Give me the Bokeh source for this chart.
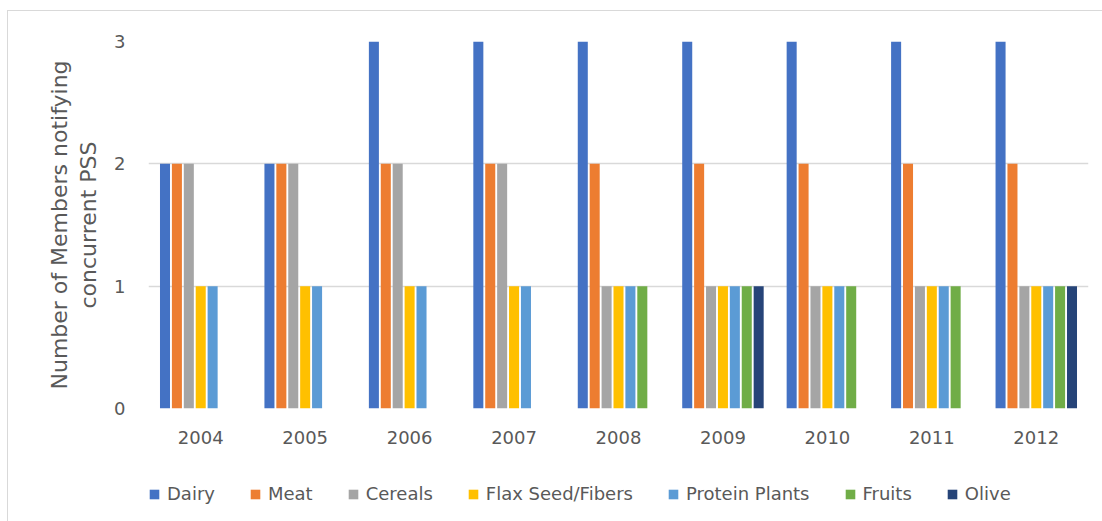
from bokeh.plotting import figure
from bokeh.models import ColumnDataSource, FactorRange, Range1d, FixedTicker, Legend, LegendItem
from bokeh.layouts import column
from bokeh.transform import dodge
from bokeh.embed import file_html
from bokeh.resources import INLINE

years = ["2004", "2005", "2006", "2007", "2008", "2009", "2010", "2011", "2012"]
dairy = [2, 2, 3, 3, 3, 3, 3, 3, 3]
meat = [2, 2, 2, 2, 2, 2, 2, 2, 2]
cereals = [2, 2, 2, 2, 1, 1, 1, 1, 1]
flax = [1, 1, 1, 1, 1, 1, 1, 1, 1]
protein = [1, 1, 1, 1, 1, 1, 1, 1, 1]
fruits = [0, 0, 0, 0, 1, 1, 1, 1, 1]
olive = [0, 0, 0, 0, 0, 1, 0, 0, 1]

series_names = ["Dairy", "Meat", "Cereals", "Flax Seed/Fibers", "Protein Plants", "Fruits", "Olive"]
series_keys = ["dairy", "meat", "cereals", "flax", "protein", "fruits", "olive"]
colors = ["#4472C4", "#ED7D31", "#A5A5A5", "#FFC000", "#5B9BD5", "#70AD47", "#264478"]

source = ColumnDataSource(dict(year=years, dairy=dairy, meat=meat, cereals=cereals,
                               flax=flax, protein=protein, fruits=fruits, olive=olive))

FONT = "DejaVu Sans"
TXT = "#595959"
W = 1094
H_MAIN = 470
H_LEG = 40

p = figure(x_range=FactorRange(*years), y_range=Range1d(0, 3),
           width=W, height=H_MAIN, output_backend="svg", toolbar_location=None,
           min_border_left=140, min_border_right=14, min_border_top=30, min_border_bottom=73)
p.outline_line_color = None
p.background_fill_color = "white"
p.border_fill_color = "white"

slot = 0.114
for i, (k, c) in enumerate(zip(series_keys, colors)):
    p.vbar(x=dodge("year", (i - 3) * slot, range=p.x_range), top=k, width=0.096,
           source=source, fill_color=c, line_color=None)

p.xgrid.grid_line_color = None
p.ygrid.grid_line_color = "#d9d9d9"
p.ygrid.grid_line_width = 1.3
p.yaxis.ticker = FixedTicker(ticks=[0, 1, 2, 3])

for ax in (p.xaxis[0], p.yaxis[0]):
    ax.axis_line_color = None
    ax.major_tick_line_color = None
    ax.minor_tick_line_color = None
    ax.major_label_text_font = FONT
    ax.major_label_text_font_size = "18px"
    ax.major_label_text_color = TXT

p.xaxis.major_label_standoff = 16
p.yaxis.major_label_standoff = 17
p.yaxis.axis_label = "Number of Members notifying\nconcurrent PSS"
p.yaxis.axis_label_text_font = FONT
p.yaxis.axis_label_text_font_size = "22px"
p.yaxis.axis_label_text_font_style = "normal"
p.yaxis.axis_label_text_color = TXT
p.yaxis.axis_label_text_line_height = 1.15
p.yaxis.axis_label_standoff = 10

# legend strip: same series as hidden renderers, legend drawn normally
lf = figure(x_range=FactorRange(*years), y_range=Range1d(0, 3),
            width=W, height=H_LEG, output_backend="svg", toolbar_location=None,
            min_border=0, x_axis_location=None, y_axis_location=None)
lf.outline_line_color = None
lf.grid.grid_line_color = None
lf.border_fill_color = "white"
items = []
for i, (k, n, c) in enumerate(zip(series_keys, series_names, colors)):
    r = lf.vbar(x=dodge("year", (i - 3) * slot, range=lf.x_range), top=k, width=0.096,
                source=source, fill_color=c, line_color=None, visible=False)
    items.append(LegendItem(label=n, renderers=[r]))

legend = Legend(items=items, orientation="horizontal", location=(0, 17),
                glyph_width=12, glyph_height=12, label_standoff=7, spacing=34,
                padding=0, margin=0, border_line_color=None, background_fill_alpha=0,
                inactive_fill_alpha=0, click_policy="none",
                label_text_font=FONT, label_text_font_size="18px", label_text_color=TXT)
lf.add_layout(legend, "center")

layout = column(p, lf, spacing=0,
                styles={"margin-left": "7px", "margin-top": "10px",
                        "border-top": "1px solid #d9d9d9", "border-left": "1px solid #d9d9d9"})

open("out.html", "w").write(file_html(layout, INLINE))
